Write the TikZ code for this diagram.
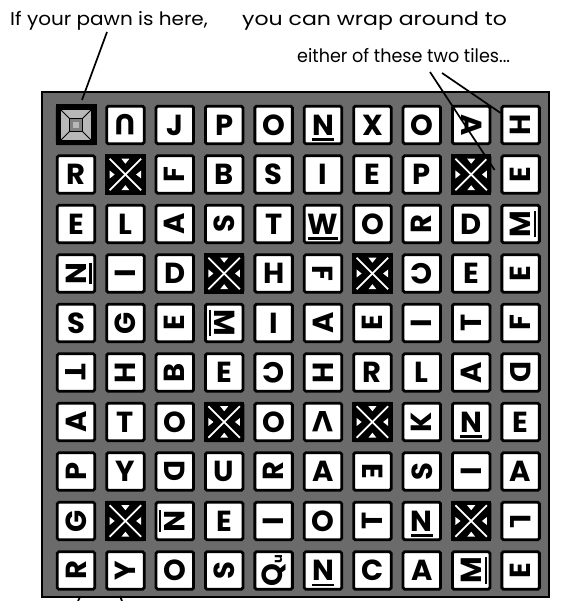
\documentclass[tikz,border=0pt]{standalone}
\usepackage{fontspec}
\usepackage{graphicx}
\setmainfont{Poppins}
\usetikzlibrary{positioning,arrows.meta}
\definecolor{cBoard}{gray}{0.42}
\definecolor{cPawn}{gray}{0.72}
\tikzset{
  board/.style={draw=black,fill=cBoard,line width=1.6pt,minimum width=507pt,minimum height=505pt,outer sep=0pt},
  tile/.style={draw=black,fill=white,line width=2.8pt,rounded corners=1.5pt,minimum size=37.5pt,inner sep=0pt,outer sep=0pt,
    font=\fontsize{29}{29}\selectfont\bfseries},
  blocked/.style={draw=black,fill=black,line width=2.8pt,minimum size=37.5pt,inner sep=0pt,outer sep=0pt},
  cross/.style={draw=white,line width=1.8pt},
  notch/.style={fill=white},
  pawnbox/.style={fill=black,minimum size=41pt,inner sep=0pt,outer sep=0pt},
  pawnface/.style={fill=cPawn,draw=black,line width=0.8pt,minimum size=31pt,inner sep=0pt,outer sep=0pt},
  pawncore/.style={fill=cPawn!70!black,draw=black,line width=1pt,minimum size=13pt,inner sep=0pt,outer sep=0pt},
  caption/.style={font=\fontsize{18.5}{20}\selectfont,inner sep=0pt,anchor=base west},
  pointer/.style={line width=1.7pt}}
% letter with a bar below it that takes no room
\newsavebox{\ulbox}
\newcommand{\ul}[1]{\sbox{\ulbox}{#1}\makebox[0pt][l]{\raisebox{-5.5pt}[0pt][0pt]{\rule{\wd\ulbox}{2.3pt}}}\usebox{\ulbox}}

\begin{document}
\begin{tikzpicture}[x=1pt,y=1pt]
\useasboundingbox (0,0) rectangle (562,601);
\node[board] (board) at (295.5,256.5) {};
% tiles, row by row from the top
\foreach \row [count=\rr] in {
  {{}/0,U/180,J/0,P/0,O/0,\ul{N}/0,X/0,O/0,A/-90,H/90},
  {R/0,{}/0,F/90,B/0,S/0,I/0,E/0,P/0,{}/0,E/90},
  {E/0,L/0,A/90,S/90,T/0,\ul{W}/0,O/0,R/90,D/0,\ul{M}/90},
  {\ul{N}/90,I/90,D/0,{}/0,H/0,F/-90,{}/0,C/180,E/0,E/90},
  {S/0,G/90,E/90,\ul{M}/-90,I/0,A/90,E/90,I/90,T/90,F/90},
  {T/-90,H/90,B/90,E/0,C/180,H/90,R/0,L/0,A/90,D/-90},
  {A/90,T/0,O/0,{}/0,O/0,V/180,{}/0,K/90,\ul{N}/0,E/0},
  {P/90,Y/0,D/-90,U/0,R/90,A/0,E/-90,S/90,I/90,A/0},
  {G/90,{}/0,\ul{N}/-90,E/0,I/90,O/0,T/90,\ul{N}/0,{}/0,L/-90},
  {R/90,Y/90,O/0,S/90,{Q{\fontsize{13}{13}\selectfont u}}/90,\ul{N}/0,C/0,A/0,\ul{M}/90,E/90}}{
  \foreach \ch/\rot [count=\cc] in \row {
    \node[tile,rotate=\rot] (t-\rr-\cc) at ({76+(\cc-1)*49.4},{476-(\rr-1)*49.5}) {\ch};
  }
}
% blocked tiles
\foreach \rr/\cc in {2/2,2/9,4/4,4/7,7/4,7/7,9/2,9/9}{
  \node[blocked] (b-\rr-\cc) at (t-\rr-\cc.center) {};
  \draw[cross] ([shift={(3,-3)}]b-\rr-\cc.north west) -- ([shift={(-3,3)}]b-\rr-\cc.south east);
  \draw[cross] ([shift={(-3,-3)}]b-\rr-\cc.north east) -- ([shift={(3,3)}]b-\rr-\cc.south west);
  \fill[notch] ([shift={(-4,-3)}]b-\rr-\cc.north) -- ++(8,0) -- ++(-4,-5) -- cycle;
  \fill[notch] ([shift={(-4,3)}]b-\rr-\cc.south) -- ++(8,0) -- ++(-4,5) -- cycle;
  \fill[notch] ([shift={(3,-4)}]b-\rr-\cc.west) -- ++(0,8) -- ++(5,-4) -- cycle;
  \fill[notch] ([shift={(-3,-4)}]b-\rr-\cc.east) -- ++(0,8) -- ++(-5,-4) -- cycle;
}
% the pawn's tile
\node[pawnbox] (pawn) at (t-1-1.center) {};
\node[pawnface] (pawnFace) at (pawn.center) {};
\node[pawncore] (pawnCore) at (pawn.center) {};
\foreach \a in {north west,north east,south west,south east}
  \draw[line width=0.9pt] (pawnFace.\a) -- (pawnCore.\a);
\node[fill=cPawn,minimum size=6pt,inner sep=0pt] (pawnDot) at (pawn.center) {};
% captions and pointers
\node[caption] (capPawn) at (10,575) {\scalebox{1.08}[1]{If your pawn is here,}};
\node[caption] (capWrap) at (242,575) {\scalebox{1.19}[1]{you can wrap around to}};
\node[caption] (capWrapB) at (297,538) {\scalebox{0.95}[1]{either of these two tiles...}};
\coordinate (pawnFrom) at (107,569);
\coordinate (wrapFromA) at (430,529);
\coordinate (wrapFromB) at (442,528);
\coordinate (stubA) at (78,0);
\coordinate (stubB) at (122,0);
\draw[pointer] (pawnFrom) -- ([shift={(6,25)}]pawn.center);
\draw[pointer] (wrapFromA) -- ([shift={(-26,4.5)}]t-2-10.center);
\draw[pointer] (wrapFromB) -- ([shift={(-20,12)}]t-1-10.center);
\draw[pointer] (stubA) -- ([shift={(4,-26.5)}]t-10-1.center);
\draw[pointer] (stubB) -- ([shift={(-5.4,-25.5)}]t-10-2.center);
\end{tikzpicture}
\end{document}
